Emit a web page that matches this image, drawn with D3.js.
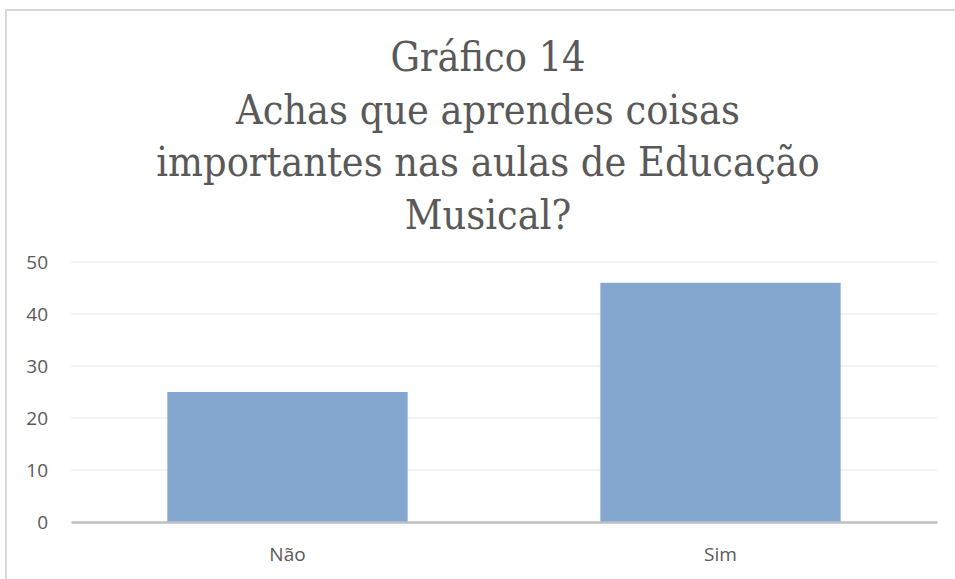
<!DOCTYPE html>
<html><head><meta charset="utf-8">
<script src="https://cdn.jsdelivr.net/npm/d3@7"></script>
<style>body{margin:0;background:#fff}svg{display:block}</style>
</head><body>
<svg id="c" width="955" height="579"></svg>
<script>
const categories = ["Não", "Sim"];
const values = [25, 46];
const yTicks = [0, 10, 20, 30, 40, 50];
const titleLines = ["Gráfico 14", "Achas que aprendes coisas", "importantes nas aulas de Educação", "Musical?"];

(function () {
const svg = d3.select("#c");
// frame
svg.append("path").attr("d", "M6,579V10H955").attr("fill", "none").attr("stroke", "#d9d9d9").attr("stroke-width", 2);

const pLeft = 71, pRight = 937, pTop = 262, pBottom = 522;
const x = d3.scaleBand().domain(categories).range([pLeft, pRight]).paddingInner(0.445).paddingOuter(0.2225);
const y = d3.scaleLinear().domain([0, 50]).range([pBottom, pTop]);

// grid
svg.append("g").selectAll("line").data(yTicks.filter(d => d > 0)).join("line")
  .attr("x1", pLeft).attr("x2", pRight).attr("y1", d => y(d)).attr("y2", d => y(d))
  .attr("stroke", "#f0f0f0").attr("stroke-width", 1.5);

// bars
svg.append("g").selectAll("rect").data(values).join("rect")
  .attr("x", (d, i) => x(categories[i])).attr("width", x.bandwidth())
  .attr("y", d => y(d)).attr("height", d => y(0) - y(d))
  .attr("fill", "#84a7cf");

// y axis
const ya = svg.append("g").attr("transform", `translate(${pLeft},0)`).call(d3.axisLeft(y).tickValues(yTicks).tickSize(0).tickPadding(23));
ya.select(".domain").remove();
ya.selectAll("text").attr("font-family", "'Open Sans', sans-serif").attr("font-size", 19).attr("fill", "#595959");

// x axis
const xa = svg.append("g").attr("transform", `translate(0,${pBottom})`).call(d3.axisBottom(x).tickSize(0).tickPadding(26));
xa.select(".domain").attr("stroke", "#bfbfbf").attr("stroke-width", 2.5);
xa.selectAll("text").attr("font-family", "'Open Sans', sans-serif").attr("font-size", 19).attr("fill", "#595959");

// title
svg.append("g").selectAll("text").data(titleLines).join("text")
  .attr("x", 488).attr("y", (d, i) => 71 + i * 52.7)
  .attr("text-anchor", "middle")
  .attr("font-family", "'DejaVu Serif Condensed', 'DejaVu Serif', serif")
  .attr("font-stretch", "condensed")
  .attr("font-size", 41).attr("fill", "#595959")
  .text(d => d);
})();
</script>
</body></html>
